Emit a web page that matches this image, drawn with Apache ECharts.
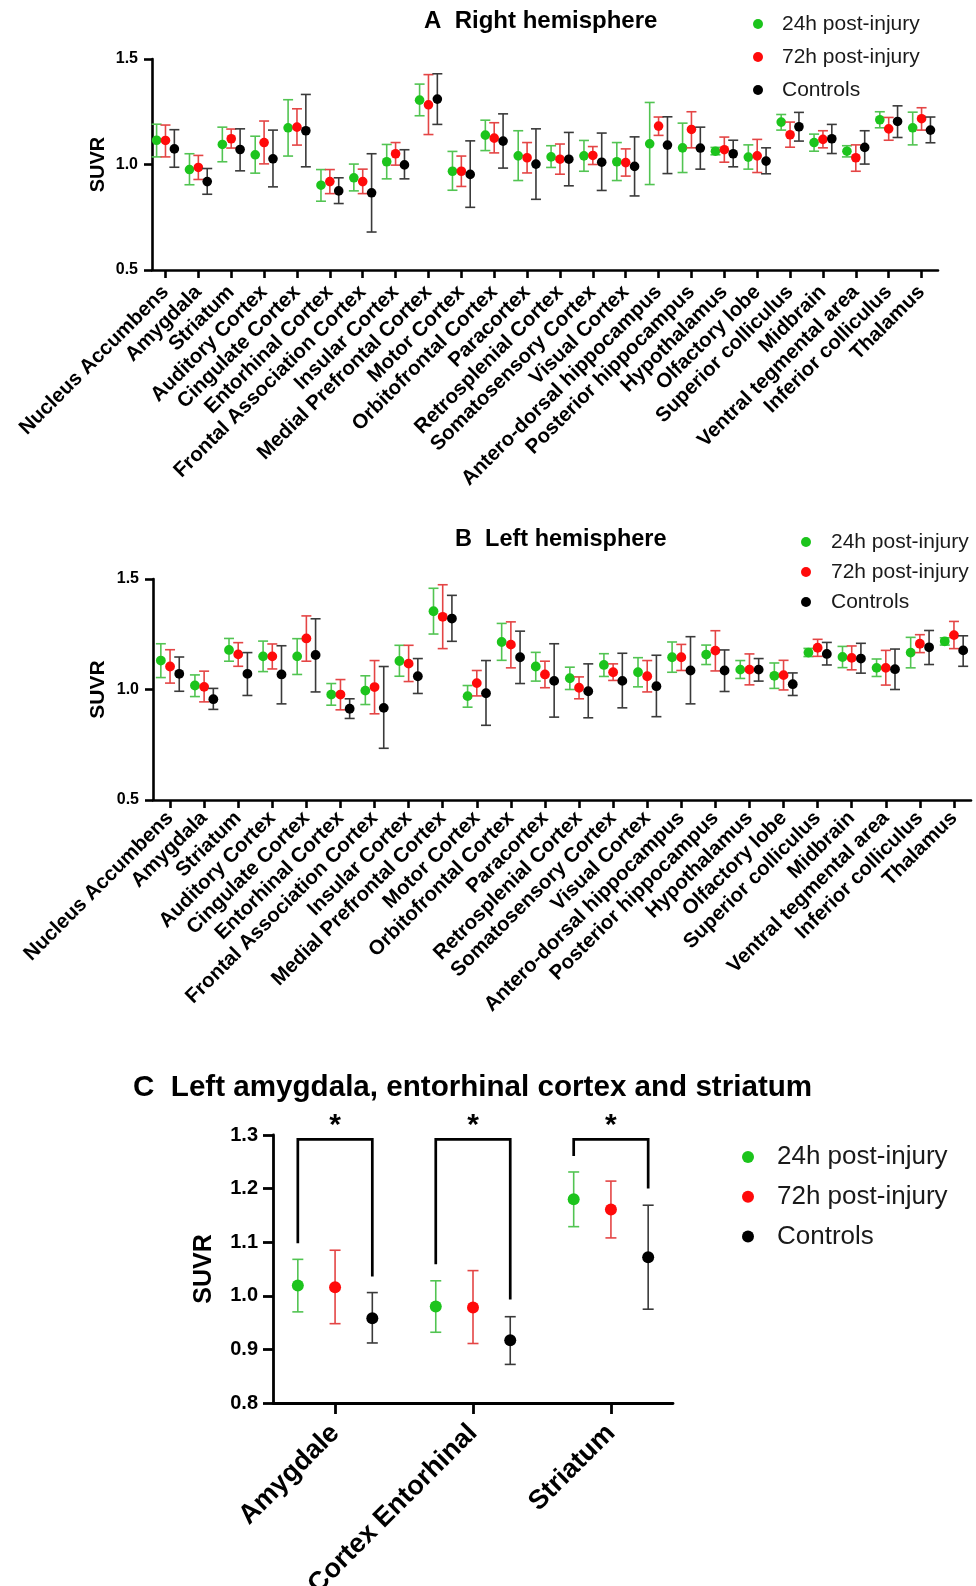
<!DOCTYPE html>
<html>
<head>
<meta charset="utf-8">
<script src="https://cdn.jsdelivr.net/npm/echarts@6/dist/echarts.min.js"></script>
<style>html,body{margin:0;padding:0;background:#fff}#c{width:976px;height:1586px}</style>
</head>
<body>
<div id="c"></div>
<script>
// ---------- categories / labels ----------
const regions = ['Nucleus Accumbens','Amygdala','Striatum','Auditory Cortex','Cingulate Cortex','Entorhinal Cortex','Frontal Association Cortex','Insular Cortex','Medial Prefrontal Cortex','Motor Cortex','Orbitofrontal Cortex','Paracortex','Retrosplenial Cortex','Somatosensory Cortex','Visual Cortex','Antero-dorsal hippocampus','Posterior hippocampus','Hypothalamus','Olfactory lobe','Superior colliculus','Midbrain','Ventral tegmental area','Inferior colliculus','Thalamus'];
const regionsC = ['Amygdale','Cortex Entorhinal','Striatum'];
const groupNames = ['24h post-injury','72h post-injury','Controls'];
const yTicksAB = [0.5, 1.0, 1.5];
const yTicksC = [0.8, 0.9, 1.0, 1.1, 1.2, 1.3];

// ---------- Panel A: right hemisphere (mean, lower, upper) ----------
const A24_mean = [1.115,0.976,1.095,1.046,1.174,0.902,0.937,1.013,1.305,0.968,1.139,1.041,1.036,1.041,1.013,1.098,1.079,1.063,1.035,1.201,1.104,1.063,1.212,1.174];
const A24_lo   = [1.036,0.904,1.013,0.959,1.040,0.826,0.875,0.932,1.231,0.878,1.066,0.924,0.986,0.968,0.924,0.905,0.962,1.046,0.978,1.163,1.063,1.036,1.174,1.093];
const A24_hi   = [1.191,1.051,1.177,1.134,1.307,0.976,1.002,1.095,1.381,1.062,1.210,1.160,1.089,1.114,1.104,1.294,1.196,1.081,1.093,1.237,1.144,1.089,1.250,1.248];
const A72_mean = [1.114,0.986,1.122,1.104,1.177,0.919,0.919,1.051,1.283,0.968,1.125,1.032,1.025,1.043,1.009,1.182,1.166,1.070,1.041,1.141,1.119,1.032,1.169,1.217];
const A72_lo   = [1.036,0.929,1.078,1.003,1.092,0.862,0.862,0.997,1.142,0.896,1.055,0.960,0.954,1.000,0.945,1.138,1.079,1.011,0.962,1.082,1.079,0.968,1.115,1.163];
const A72_hi   = [1.187,1.043,1.168,1.206,1.264,0.976,0.978,1.104,1.426,1.040,1.198,1.104,1.097,1.085,1.074,1.225,1.250,1.130,1.119,1.201,1.160,1.093,1.223,1.269];
const ACt_mean = [1.074,0.919,1.071,1.027,1.160,0.875,0.866,0.998,1.310,0.953,1.111,1.002,1.025,1.011,0.991,1.092,1.078,1.051,1.016,1.179,1.122,1.081,1.204,1.163];
const ACt_lo   = [0.987,0.859,0.970,0.894,0.989,0.815,0.680,0.932,1.190,0.797,0.983,0.835,0.899,0.877,0.851,0.957,0.978,0.989,0.956,1.111,1.052,1.002,1.128,1.103];
const ACt_hi   = [1.165,0.981,1.169,1.163,1.332,0.937,1.051,1.070,1.430,1.112,1.240,1.169,1.152,1.149,1.131,1.226,1.177,1.115,1.079,1.247,1.190,1.160,1.278,1.225];

// ---------- Panel B: left hemisphere ----------
const B24_mean = [1.131,1.018,1.179,1.150,1.150,0.977,0.995,1.129,1.354,0.970,1.215,1.104,1.051,1.111,1.078,1.146,1.158,1.090,1.062,1.167,1.147,1.098,1.167,1.218];
const B24_lo   = [1.054,0.968,1.128,1.081,1.068,0.929,0.932,1.060,1.251,0.920,1.132,1.038,1.000,1.059,1.012,1.078,1.113,1.050,1.005,1.149,1.099,1.059,1.098,1.201];
const B24_hi   = [1.207,1.066,1.231,1.219,1.230,1.027,1.062,1.200,1.458,1.018,1.299,1.168,1.101,1.162,1.144,1.215,1.201,1.131,1.120,1.186,1.195,1.138,1.236,1.234];
const B72_mean = [1.104,1.012,1.159,1.150,1.231,0.977,1.011,1.117,1.329,1.029,1.203,1.068,1.008,1.078,1.060,1.146,1.176,1.090,1.065,1.189,1.143,1.098,1.207,1.246];
const B72_lo   = [1.029,0.944,1.105,1.093,1.128,0.908,0.890,1.036,1.185,0.971,1.098,1.008,0.958,1.041,0.989,1.086,1.084,1.021,0.998,1.150,1.089,1.020,1.167,1.185];
const B72_hi   = [1.180,1.083,1.212,1.206,1.333,1.045,1.131,1.200,1.474,1.086,1.306,1.128,1.057,1.116,1.131,1.204,1.266,1.161,1.132,1.227,1.197,1.177,1.248,1.308];
const BCt_mean = [1.071,0.956,1.071,1.068,1.156,0.913,0.917,1.060,1.321,0.983,1.146,1.039,0.992,1.039,1.015,1.086,1.086,1.090,1.024,1.161,1.140,1.092,1.191,1.177];
const BCt_lo   = [0.992,0.910,0.973,0.935,0.989,0.869,0.734,0.982,1.218,0.838,1.027,0.875,0.872,0.917,0.877,0.935,0.991,1.038,0.973,1.111,1.074,1.000,1.113,1.105];
const BCt_hi   = [1.147,1.005,1.167,1.198,1.320,0.958,1.104,1.140,1.426,1.131,1.264,1.207,1.116,1.164,1.155,1.239,1.179,1.140,1.075,1.213,1.209,1.183,1.267,1.243];

// ---------- Panel C: left amygdala, entorhinal cortex, striatum ----------
const C24_mean = [1.019,0.980,1.180];
const C24_lo   = [0.970,0.932,1.129];
const C24_hi   = [1.068,1.028,1.231];
const C72_mean = [1.016,0.978,1.161];
const C72_lo   = [0.948,0.911,1.108];
const C72_hi   = [1.085,1.047,1.214];
const CCt_mean = [0.958,0.917,1.072];
const CCt_lo   = [0.912,0.872,0.975];
const CCt_hi   = [1.006,0.961,1.169];
// significance brackets (24h vs Controls)
const sigTop   = [1.292,1.292,1.292];
const sigLeft  = [1.098,1.059,1.261];
const sigRight = [1.036,0.993,1.200];
const sigStar  = [1.318,1.318,1.318];
const sigText  = ['*','*','*'];

// ---------- styling ----------
const FONT = 'Liberation Sans, Arial, sans-serif';
const pointColors = ['#1cc41c','#ff0a0a','#000000'];
const barColors = ['#52c452','#e44545','#3a3a3a'];
const offsets = [-0.27, 0, 0.27];

function build(mean, lo, hi) { return mean.map((m, i) => [i, m, lo[i], hi[i]]); }

function mk(off, fill, stroke, r, cap, lw) {
  return function (params, api) {
    const i = api.value(0);
    const unit = api.size([1, 0])[0];
    const pm = api.coord([i, api.value(1)]);
    const pl = api.coord([i, api.value(2)]);
    const ph = api.coord([i, api.value(3)]);
    const x = pm[0] + off * unit;
    const st = { stroke: stroke, lineWidth: lw };
    return {
      type: 'group',
      children: [
        { type: 'line', shape: { x1: x, y1: ph[1], x2: x, y2: pl[1] }, style: st },
        { type: 'line', shape: { x1: x - cap, y1: ph[1], x2: x + cap, y2: ph[1] }, style: st },
        { type: 'line', shape: { x1: x - cap, y1: pl[1], x2: x + cap, y2: pl[1] }, style: st },
        { type: 'circle', shape: { cx: x, cy: pm[1], r: r }, style: { fill: fill } }
      ]
    };
  };
}

function bracketRender(params, api) {
  const i = api.value(0);
  const unit = api.size([1, 0])[0];
  const pt = api.coord([i, api.value(1)]);
  const pL = api.coord([i, api.value(2)]);
  const pR = api.coord([i, api.value(3)]);
  const pS = api.coord([i, api.value(4)]);
  const xl = pt[0] + offsets[0] * unit;
  const xr = pt[0] + offsets[2] * unit;
  return {
    type: 'group',
    children: [
      { type: 'polyline', shape: { points: [[xl, pL[1]], [xl, pt[1]], [xr, pt[1]], [xr, pR[1]]] },
        style: { stroke: '#000', lineWidth: 2.7, fill: null } },
      { type: 'text', x: pt[0], y: pS[1],
        style: { text: sigText[params.dataIndex], fill: '#000', font: 'bold 30px ' + FONT,
                 align: 'center', verticalAlign: 'middle', textAlign: 'center', textVerticalAlign: 'middle' } }
    ]
  };
}

const panels = [
  { sets: [[A24_mean,A24_lo,A24_hi],[A72_mean,A72_lo,A72_hi],[ACt_mean,ACt_lo,ACt_hi]], r: 4.8, cap: 5, lw: 1.6 },
  { sets: [[B24_mean,B24_lo,B24_hi],[B72_mean,B72_lo,B72_hi],[BCt_mean,BCt_lo,BCt_hi]], r: 4.9, cap: 5, lw: 1.6 },
  { sets: [[C24_mean,C24_lo,C24_hi],[C72_mean,C72_lo,C72_hi],[CCt_mean,CCt_lo,CCt_hi]], r: 6, cap: 5.5, lw: 1.6 }
];

const series = [];
panels.forEach((p, pi) => {
  p.sets.forEach((s, g) => {
    series.push({
      type: 'custom', name: groupNames[g], xAxisIndex: pi, yAxisIndex: pi,
      renderItem: mk(offsets[g], pointColors[g], barColors[g], p.r, p.cap, p.lw),
      itemStyle: { color: pointColors[g] },
      encode: { x: 0, y: [1, 2, 3] },
      data: build(s[0], s[1], s[2]),
      z: 10 + g, silent: true
    });
  });
});
series.push({
  type: 'custom', name: 'sig', xAxisIndex: 2, yAxisIndex: 2, renderItem: bracketRender,
  encode: { x: 0, y: [1, 2, 3, 4] }, silent: true, z: 20,
  data: sigTop.map((t, i) => [i, t, sigLeft[i], sigRight[i], sigStar[i]])
});

function axisLineStyle(w) { return { color: '#000', width: w }; }
function xAxisCfg(gi, cats, min, max, fs, rot, margin, tickLen, w) {
  const idx = cats.map((_, i) => i);
  return {
    type: 'value', gridIndex: gi, min: min, max: max,
    splitLine: { show: false },
    axisLine: { show: true, onZero: false, lineStyle: axisLineStyle(w) },
    axisTick: { show: true, customValues: idx, length: tickLen, lineStyle: axisLineStyle(w) },
    axisLabel: { show: true, customValues: idx, formatter: v => cats[Math.round(v)] || '', rotate: rot, margin: margin,
                 fontSize: fs, fontWeight: 'bold', color: '#000', fontFamily: FONT }
  };
}
function yAxisCfg(gi, ticks, interval, fs, nameFs, nameGap, margin, tickLen, w) {
  return {
    type: 'value', gridIndex: gi, min: ticks[0], max: ticks[ticks.length - 1], interval: interval,
    splitLine: { show: false },
    axisLine: { show: true, onZero: false, lineStyle: axisLineStyle(w) },
    axisTick: { show: true, length: tickLen, lineStyle: axisLineStyle(w) },
    axisLabel: { fontSize: fs, fontWeight: 'bold', color: '#000', fontFamily: FONT, margin: margin,
                 formatter: v => v.toFixed(1) },
    name: 'SUVR', nameLocation: 'middle', nameGap: nameGap, nameMoveOverlap: false,
    nameTextStyle: { fontSize: nameFs, fontWeight: 'bold', color: '#000', fontFamily: FONT }
  };
}
function legendCfg(left, top, iconSize, fs, lh, gap, pad) {
  return {
    data: groupNames, orient: 'vertical', left: left, top: top, icon: 'circle',
    itemWidth: iconSize, itemHeight: iconSize, itemGap: gap, selectedMode: false, padding: 0,
    textStyle: { fontSize: fs, color: '#1a1a1a', fontFamily: FONT, lineHeight: lh, padding: [0, 0, 0, pad] }
  };
}

const option = {
  animation: false,
  backgroundColor: '#ffffff',
  title: [
    { text: 'A  Right hemisphere', left: 424, top: 9, padding: 0,
      textStyle: { fontSize: 24, fontWeight: 'bold', color: '#000', fontFamily: FONT } },
    { text: 'B  Left hemisphere', left: 455, top: 528, padding: 0,
      textStyle: { fontSize: 23.5, fontWeight: 'bold', color: '#000', fontFamily: FONT } },
    { text: 'C  Left amygdala, entorhinal cortex and striatum', left: 133, top: 1073, padding: 0,
      textStyle: { fontSize: 29.6, fontWeight: 'bold', color: '#000', fontFamily: FONT } }
  ],
  legend: [
    legendCfg(753, 13, 10, 21, 22, 11, 14),
    legendCfg(801, 531, 10, 21, 22, 8, 15),
    legendCfg(742, 1143, 12, 26, 28, 11.7, 18)
  ],
  grid: [
    { left: 152, top: 59, width: 786, height: 211, containLabel: false, outerBoundsMode: 'none' },
    { left: 153, top: 579, width: 818, height: 221, containLabel: false, outerBoundsMode: 'none' },
    { left: 273, top: 1135, width: 400, height: 268, containLabel: false, outerBoundsMode: 'none' }
  ],
  xAxis: [
    xAxisCfg(0, regions, -0.41, 23.5, 20.5, 45, 19, 8, 2.6),
    xAxisCfg(1, regions, -0.5, 23.5, 20.5, 45, 15, 8, 2.6),
    xAxisCfg(2, regionsC, -0.45, 2.45, 27, 45, 26, 11, 2.8)
  ],
  yAxis: [
    yAxisCfg(0, yTicksAB, 0.5, 16, 20, 44, 14, 8, 2.6),
    yAxisCfg(1, yTicksAB, 0.5, 16, 21, 44, 14, 8, 2.6),
    yAxisCfg(2, yTicksC, 0.1, 20, 25, 56, 15, 10, 2.8)
  ],
  series: series
};

const chart = echarts.init(document.getElementById('c'), null, { renderer: 'canvas' });
chart.setOption(option);
</script>
</body>
</html>
